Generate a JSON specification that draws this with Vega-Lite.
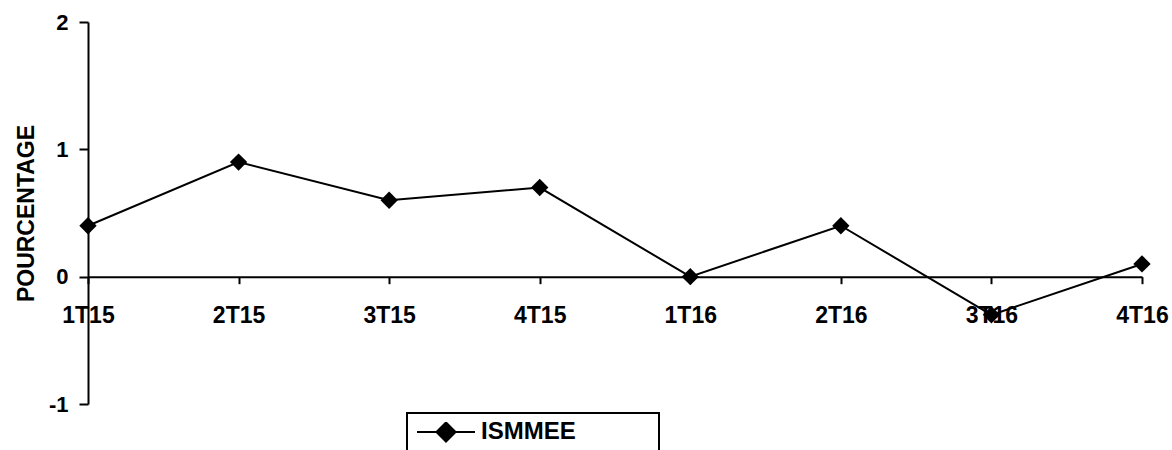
{
  "$schema": "https://vega.github.io/schema/vega-lite/v6.json",
  "width": 1054,
  "height": 382,
  "autosize": {"type": "none"},
  "padding": {"left": 88, "top": 22, "right": 30, "bottom": 46},
  "background": "white",
  "config": {"view": {"stroke": null}, "font": "Liberation Sans"},
  "data": {
    "values": [
      {"quarter": "1T15", "value": 0.4, "series": "ISMMEE"},
      {"quarter": "2T15", "value": 0.9, "series": "ISMMEE"},
      {"quarter": "3T15", "value": 0.6, "series": "ISMMEE"},
      {"quarter": "4T15", "value": 0.7, "series": "ISMMEE"},
      {"quarter": "1T16", "value": 0.0, "series": "ISMMEE"},
      {"quarter": "2T16", "value": 0.4, "series": "ISMMEE"},
      {"quarter": "3T16", "value": -0.3, "series": "ISMMEE"},
      {"quarter": "4T16", "value": 0.1, "series": "ISMMEE"}
    ]
  },
  "encoding": {
    "x": {
      "field": "quarter",
      "type": "ordinal",
      "sort": null,
      "scale": {"type": "point", "padding": 0},
      "axis": {
        "title": null,
        "orient": "bottom",
        "offset": -127.33,
        "labelAngle": 0,
        "labelFontSize": 23,
        "labelFontWeight": "bold",
        "labelColor": "black",
        "labelPadding": 21,
        "labelOverlap": false,
        "domainColor": "black",
        "domainWidth": 2,
        "tickColor": "black",
        "tickWidth": 2,
        "tickSize": 7,
        "grid": false
      }
    },
    "y": {
      "field": "value",
      "type": "quantitative",
      "scale": {"domain": [-1, 2], "nice": false, "zero": false},
      "axis": {
        "title": "POURCENTAGE",
        "values": [-1, 0, 1, 2],
        "labelExpr": "toString(datum.value)",
        "grid": false,
        "labelFontSize": 22,
        "labelFontWeight": "bold",
        "labelColor": "black",
        "labelPadding": 11,
        "titleFontSize": 23,
        "titleFontWeight": "bold",
        "titleColor": "black",
        "titlePadding": 10,
        "tickSize": 9,
        "tickWidth": 2,
        "tickColor": "black",
        "domainColor": "black",
        "domainWidth": 2
      }
    },
    "color": {
      "field": "series",
      "type": "nominal",
      "scale": {"range": ["black"]},
      "legend": {
        "title": null,
        "orient": "none",
        "legendX": 319,
        "legendY": 391,
        "padding": 9,
        "clipHeight": 20,
        "symbolType": "M-1,0H1M0,-0.33L0.33,0L0,0.33L-0.33,0Z",
        "symbolSize": 3364,
        "symbolStrokeWidth": 2,
        "symbolStrokeColor": "black",
        "symbolFillColor": "black",
        "labelFontSize": 24,
        "labelFontWeight": "bold",
        "labelColor": "black",
        "labelOffset": 5,
        "labelLimit": 500,
        "labelExpr": "pad(datum.label, 17) + '\u200b'",
        "strokeColor": "black",
        "encode": {
          "legend": {"update": {"stroke": {"value": "black"}, "strokeWidth": {"value": 2}}},
          "symbols": {"update": {"fill": {"value": "black"}, "stroke": {"value": "black"}, "strokeWidth": {"value": 2}, "opacity": {"value": 1}}}
        }
      }
    }
  },
  "layer": [
    {"mark": {"type": "line", "strokeWidth": 2}},
    {"mark": {"type": "point", "shape": "diamond", "filled": true, "size": 300, "opacity": 1}}
  ]
}
